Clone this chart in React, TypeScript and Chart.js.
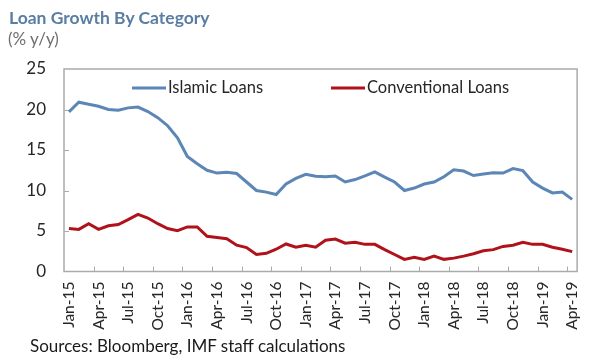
import React, { useEffect, useRef } from "react";
import { Chart, registerables } from "chart.js";

Chart.register(...registerables);

const categories = [
  "Jan-15","Feb-15","Mar-15","Apr-15","May-15","Jun-15","Jul-15","Aug-15","Sep-15","Oct-15","Nov-15","Dec-15",
  "Jan-16","Feb-16","Mar-16","Apr-16","May-16","Jun-16","Jul-16","Aug-16","Sep-16","Oct-16","Nov-16","Dec-16",
  "Jan-17","Feb-17","Mar-17","Apr-17","May-17","Jun-17","Jul-17","Aug-17","Sep-17","Oct-17","Nov-17","Dec-17",
  "Jan-18","Feb-18","Mar-18","Apr-18","May-18","Jun-18","Jul-18","Aug-18","Sep-18","Oct-18","Nov-18","Dec-18",
  "Jan-19","Feb-19","Mar-19","Apr-19",
];

const islamicLoans = [
  19.7, 20.9, 20.65, 20.4, 20.0, 19.9, 20.2, 20.3, 19.75, 19.0, 18.0, 16.5, 14.2,
  13.3, 12.5, 12.15, 12.25, 12.1, 11.05, 10.0, 9.8, 9.5, 10.8, 11.5, 12.0, 11.75,
  11.7, 11.8, 11.05, 11.35, 11.8, 12.3, 11.65, 11.05, 10.0, 10.3, 10.8, 11.05, 11.7,
  12.55, 12.4, 11.85, 12.05, 12.2, 12.15, 12.7, 12.45, 11.05, 10.3, 9.7, 9.8, 8.9,
];

const conventionalLoans = [
  5.3, 5.2, 5.9, 5.2, 5.65, 5.8, 6.4, 7.05, 6.6, 5.9, 5.3, 5.05, 5.5,
  5.5, 4.35, 4.2, 4.05, 3.25, 2.95, 2.1, 2.25, 2.75, 3.4, 3.0, 3.25, 3.0,
  3.85, 4.0, 3.5, 3.6, 3.35, 3.35, 2.7, 2.1, 1.5, 1.75, 1.5, 1.9, 1.5,
  1.65, 1.9, 2.2, 2.55, 2.7, 3.1, 3.25, 3.6, 3.35, 3.35, 3.0, 2.75, 2.45,
];

const seriesNames = ["Islamic Loans", "Conventional Loans"];
const seriesColors = ["#5b86b5", "#b0121b"];
const yTicks = [0, 5, 10, 15, 20, 25];

const FONT = "Lato, 'Open Sans', sans-serif";

const frameAndTicks = {
  id: "frameAndTicks",
  beforeDatasetsDraw(chart: any) {
    const { ctx, chartArea } = chart;
    const x = chart.scales.x;
    const y = chart.scales.y;
    ctx.save();
    ctx.strokeStyle = "#ababab";
    ctx.lineWidth = 1.5;
    ctx.strokeRect(chartArea.left, chartArea.top, chartArea.right - chartArea.left, chartArea.bottom - chartArea.top);
    ctx.lineWidth = 1;
    ctx.beginPath();
    yTicks.forEach((v) => {
      if (v === 0 || v === 25) return;
      const py = Math.round(y.getPixelForValue(v)) + 0.5;
      ctx.moveTo(chartArea.left, py);
      ctx.lineTo(chartArea.left + 5, py);
    });
    for (let i = 3; i < categories.length; i += 3) {
      const px = Math.round(x.getPixelForValue(i - 0.5)) + 0.5;
      ctx.moveTo(px, chartArea.bottom);
      ctx.lineTo(px, chartArea.bottom - 5);
    }
    ctx.stroke();
    ctx.restore();
  },
  afterDatasetsDraw(chart: any) {
    const { ctx } = chart;
    const items = [
      { x1: 132, x2: 166, tx: 168 },
      { x1: 331, x2: 365, tx: 367 },
    ];
    ctx.save();
    ctx.font = `16.5px ${FONT}`;
    ctx.textBaseline = "middle";
    chart.data.datasets.forEach((ds: any, i: number) => {
      const it = items[i];
      const ly = 88;
      ctx.strokeStyle = ds.borderColor;
      ctx.lineWidth = 3;
      ctx.beginPath();
      ctx.moveTo(it.x1, ly);
      ctx.lineTo(it.x2, ly);
      ctx.stroke();
      ctx.fillStyle = "#262626";
      ctx.fillText(ds.label, it.tx, ly);
    });
    ctx.restore();
  },
};

export default function App() {
  const canvasRef = useRef<HTMLCanvasElement | null>(null);

  useEffect(() => {
    if (!canvasRef.current) return;
    const chart = new Chart(canvasRef.current, {
      type: "line",
      data: {
        labels: categories,
        datasets: [
          {
            label: seriesNames[0],
            data: islamicLoans,
            borderColor: seriesColors[0],
            backgroundColor: seriesColors[0],
            borderWidth: 3,
            pointRadius: 0,
            tension: 0,
          },
          {
            label: seriesNames[1],
            data: conventionalLoans,
            borderColor: seriesColors[1],
            backgroundColor: seriesColors[1],
            borderWidth: 3,
            pointRadius: 0,
            tension: 0,
          },
        ],
      },
      options: {
        responsive: false,
        animation: false,
        layout: { padding: { left: 0, top: 69, right: 22, bottom: 29.5 } },
        plugins: {
          legend: { display: false },
          tooltip: { enabled: false },
          title: { display: false },
        },
        scales: {
          x: {
            type: "category",
            offset: true,
            grid: { display: false, drawTicks: false },
            border: { display: false },
            afterFit: (s: any) => { s.height = 60; },
            ticks: {
              autoSkip: false,
              minRotation: 90,
              maxRotation: 90,
              padding: 10,
              color: "#262626",
              font: { family: FONT, size: 15.5 },
              callback: (_v: any, i: number) => (i % 3 === 0 ? categories[i] : ""),
            },
          },
          y: {
            min: 0,
            max: 25,
            grid: { display: false, drawTicks: false },
            border: { display: false },
            afterFit: (s: any) => { s.width = 64; },
            afterBuildTicks: (s: any) => { s.ticks = yTicks.map((v) => ({ value: v })); },
            ticks: {
              padding: 18,
              color: "#262626",
              font: { family: FONT, size: 17 },
            },
          },
        },
      },
      plugins: [frameAndTicks],
    });
    return () => chart.destroy();
  }, []);

  return (
    <div style={{ position: "absolute", left: 0, top: 0, width: 601, height: 361, background: "#fff", overflow: "hidden" }}>
      <canvas ref={canvasRef} width={601} height={361} style={{ position: "absolute", left: 0, top: 0 }} />
      <div style={{ position: "absolute", left: 9, top: 7, font: `bold 17.5px ${FONT}`, lineHeight: "21px", color: "#5a7ea3", whiteSpace: "nowrap" }}>
        Loan Growth By Category
      </div>
      <div style={{ position: "absolute", left: 8, top: 29, font: `17px ${FONT}`, lineHeight: "20px", color: "#6f6f6f", whiteSpace: "nowrap" }}>
        (% y/y)
      </div>
      <div style={{ position: "absolute", left: 30, top: 336, font: `17px ${FONT}`, lineHeight: "20px", color: "#1a1a1a", whiteSpace: "nowrap" }}>
        Sources: Bloomberg, IMF staff calculations
      </div>
    </div>
  );
}
